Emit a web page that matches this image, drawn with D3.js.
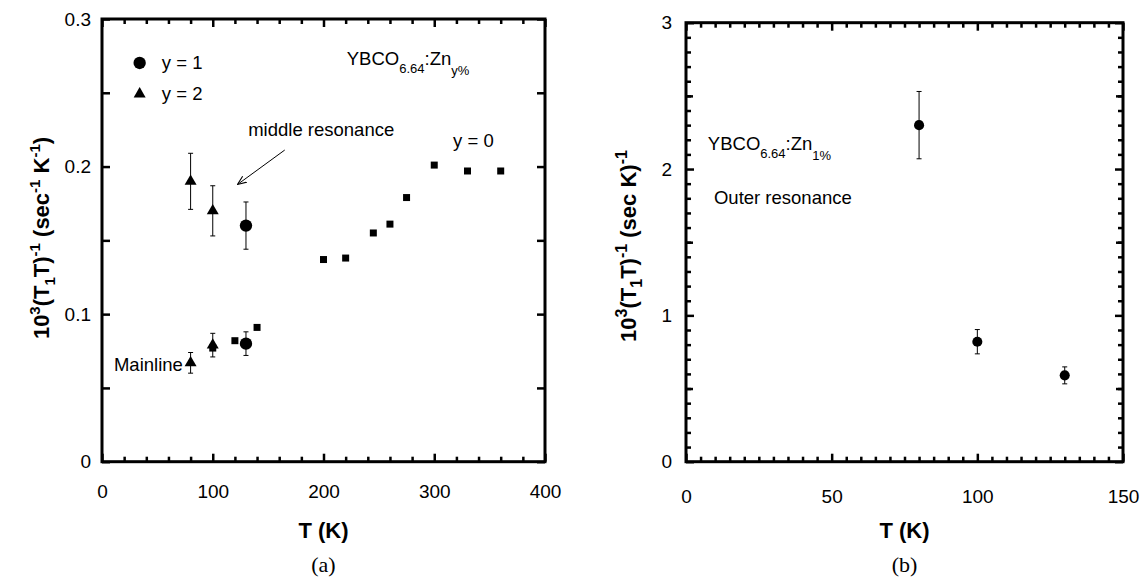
<!DOCTYPE html>
<meta charset="utf-8">
<style>
body { margin: 0; background: #fff; }
svg text { font-family: "Liberation Sans", Arial, sans-serif; fill: #000; }
.axis text { font-size: 19px; }
.axis path { display: none; }
.err line { stroke: #000; stroke-width: 1px; }
.note { font-size: 18.5px; }
.title { font-size: 22px; font-weight: bold; }
.cap { font-family: "Liberation Serif", "DejaVu Serif", serif !important; font-size: 22px; }
</style>
<svg width="1143" height="582"></svg>
<script src="https://d3js.org/d3.v7.min.js"></script>
<script>
// panel (a): 1/(T1 T) of YBCO6.64:Zn
// y = 0, squares
var tY0 = [100, 120, 140, 200, 220, 245, 260, 275, 300, 330, 360];
var rY0 = [0.077, 0.082, 0.091, 0.137, 0.138, 0.155, 0.161, 0.179, 0.201, 0.197, 0.197];
// y = 1, circles (middle resonance, mainline)
var tY1 = [130, 130];
var rY1 = [0.160, 0.080];
var eY1 = [0.016, 0.008];
// y = 2, triangles
var tY2 = [80, 100, 80, 100];
var rY2 = [0.190, 0.170, 0.067, 0.079];
var eY2 = [0.019, 0.017, 0.007, 0.008];

// panel (b): outer resonance, Zn 1%
var tOut = [80, 100, 130];
var rOut = [2.30, 0.82, 0.59];
var eOut = [0.23, 0.083, 0.058];

var xTicksA = [0, 100, 200, 300, 400], yTicksA = [0, 0.1, 0.2, 0.3];
var xTicksB = [0, 50, 100, 150], yTicksB = [0, 1, 2, 3];

var svg = d3.select("svg");

function panel(o) {
  var x = d3.scaleLinear().domain(o.xd).range([o.l, o.r]);
  var y = d3.scaleLinear().domain(o.yd).range([o.b, o.t]);
  var g = svg.append("g");

  function ax(fn, pos, vals, size, fmt, pad) {
    var a = fn(fn === d3.axisBottom || fn === d3.axisTop ? x : y)
      .tickValues(vals).tickSize(-size).tickPadding(pad || 0)
      .tickFormat(fmt || function() { return ""; });
    var s = g.append("g").attr("class", "axis").attr("transform", pos).call(a);
    s.selectAll(".tick line").attr("stroke", "#000").attr("stroke-width", 2.5);
  }
  var minX = d3.range(o.xd[0], o.xd[1] + 1e-9, o.xMinor).filter(function(v) { return o.xMajor.indexOf(v) < 0; });
  var minY = o.yMinor.filter(function(v) { return o.yMajor.indexOf(v) < 0; });
  var bottom = "translate(0," + o.b + ")", top = "translate(0," + o.t + ")";
  var left = "translate(" + o.l + ",0)", right = "translate(" + o.r + ",0)";

  g.append("rect").attr("fill", "none").attr("stroke", "#000").attr("stroke-width", 3)
    .attr("x", o.l).attr("y", o.t).attr("width", o.r - o.l).attr("height", o.b - o.t);

  ax(d3.axisBottom, bottom, o.xMajor, 8, o.xFmt, o.xPad);
  ax(d3.axisBottom, bottom, minX, 5);
  ax(d3.axisTop, top, o.xMajor, 8);
  ax(d3.axisTop, top, minX, 5);
  ax(d3.axisLeft, left, o.yMajor, 8, o.yFmt, o.yPad);
  ax(d3.axisLeft, left, minY, o.yMinorLen);
  ax(d3.axisRight, right, o.yMajor, 8);
  ax(d3.axisRight, right, minY, o.yMinorLen);
  if (o.yMid) {
    ax(d3.axisLeft, left, o.yMid, 7);
    ax(d3.axisRight, right, o.yMid, 7);
  }

  g.append("text").attr("class", "title").attr("text-anchor", "middle")
    .attr("x", (o.l + o.r) / 2).attr("y", 538).text("T (K)");
  g.append("text").attr("class", "cap").attr("text-anchor", "middle")
    .attr("x", (o.l + o.r) / 2).attr("y", 572).text(o.cap);

  var yl = g.append("text").attr("class", "title").attr("font-size", o.ylSize)
    .attr("text-anchor", "middle")
    .attr("transform", "translate(" + o.ylx + "," + o.yly + ") rotate(-90)");
  o.yLabel.forEach(function(p) {
    var s = yl.append("tspan").text(p[0]);
    if (p[1] === "sup") s.attr("font-size", o.supSize).attr("dy", "-9");
    if (p[1] === "sub") s.attr("font-size", o.supSize).attr("dy", "6");
    if (p[1] === "back") s.attr("dy", "9");
    if (p[1] === "up") s.attr("dy", "-6");
  });
  return { g: g, x: x, y: y };
}

function errs(p, ts, rs, es) {
  var e = p.g.append("g").attr("class", "err");
  ts.forEach(function(t, i) {
    var cx = p.x(t), y1 = p.y(rs[i] - es[i]), y2 = p.y(rs[i] + es[i]);
    e.append("line").attr("x1", cx).attr("x2", cx).attr("y1", y1).attr("y2", y2);
    e.append("line").attr("x1", cx - 2.5).attr("x2", cx + 2.5).attr("y1", y1).attr("y2", y1);
    e.append("line").attr("x1", cx - 2.5).attr("x2", cx + 2.5).attr("y1", y2).attr("y2", y2);
  });
}

function marks(p, ts, rs, type, size) {
  p.g.append("g").selectAll("path").data(ts).enter().append("path")
    .attr("d", d3.symbol().type(type).size(size))
    .attr("transform", function(t, i) { return "translate(" + p.x(t) + "," + p.y(rs[i]) + ")"; })
    .attr("fill", "#000");
}

function note(p, t, r, parts, anchor) {
  var tx = p.g.append("text").attr("class", "note").attr("x", p.x(t)).attr("y", p.y(r))
    .attr("text-anchor", anchor || "start");
  parts.forEach(function(q) {
    var s = tx.append("tspan").text(q[0]);
    if (q[1]) s.attr("font-size", "13px").attr("dy", q[1]);
    if (q[2]) s.attr("dy", q[2]);
  });
}

// ----- panel (a)
var a = panel({
  xd: [0, 400], yd: [0, 0.3], l: 102, r: 545, t: 19, b: 461.7,
  xMajor: xTicksA, xMinor: 20, yMajor: yTicksA, yMinor: [0.05, 0.15, 0.25], yMinorLen: 8,
  xFmt: d3.format("d"), yFmt: function(d) { return d === 0 ? "0" : d3.format(".1f")(d); },
  xPad: 23, yPad: 11, cap: "(a)", ylx: 49, yly: 238, ylSize: "21.5px", supSize: "15px",
  yLabel: [["10"], ["3", "sup"], ["(T", "back"], ["1", "sub"], ["T)", "up"], ["-1", "sup"],
           [" (sec", "back"], ["-1", "sup"], [" K", "back"], ["-1", "sup"], [")", "back"]]
});

errs(a, tY1, rY1, eY1);
errs(a, tY2, rY2, eY2);
marks(a, tY0, rY0, d3.symbolSquare, 49);
marks(a, tY2, rY2, d3.symbolTriangle, 62);
marks(a, tY1, rY1, d3.symbolCircle, 120);

// legend
marks(a, [34], [0.2702], d3.symbolCircle, 120);
marks(a, [34], [0.2492], d3.symbolTriangle, 62);
note(a, 54, 0.2660, [["y = 1"]]);
note(a, 54, 0.2450, [["y = 2"]]);

note(a, 221, 0.2688, [["YBCO"], ["6.64", "8"], [":Zn", null, "-8"], ["y%", "10"]]);
note(a, 317, 0.2132, [["y = 0"]]);
note(a, 132, 0.2207, [["middle resonance"]]);
note(a, 73, 0.0615, [["Mainline"]], "end");

svg.append("defs").append("marker").attr("id", "ah")
  .attr("viewBox", "0 0 10 10").attr("refX", 9).attr("refY", 5)
  .attr("markerWidth", 9).attr("markerHeight", 9).attr("orient", "auto")
  .attr("markerUnits", "userSpaceOnUse")
  .append("path").attr("d", "M0,1 L10,5 L0,9").attr("fill", "none").attr("stroke", "#000").attr("stroke-width", 1.2);

var arrow = [[165, 0.2112], [123, 0.1882]];
a.g.append("line").attr("stroke", "#000").attr("stroke-width", 1)
  .attr("x1", a.x(arrow[0][0])).attr("y1", a.y(arrow[0][1]))
  .attr("x2", a.x(arrow[1][0])).attr("y2", a.y(arrow[1][1]))
  .attr("marker-end", "url(#ah)");

// ----- panel (b)
var b = panel({
  xd: [0, 150], yd: [0, 3], l: 686, r: 1123, t: 22.7, b: 461.7,
  xMajor: xTicksB, xMinor: 5, yMajor: yTicksB, yMinor: d3.range(1, 30).map(function(i) { return i / 10; }),
  yMinorLen: 5, yMid: [0.5, 1.5, 2.5],
  xFmt: d3.format("d"), yFmt: d3.format("d"),
  xPad: 28, yPad: 14, cap: "(b)", ylx: 636, yly: 246, ylSize: "23px", supSize: "16px",
  yLabel: [["10"], ["3", "sup"], ["(T", "back"], ["1", "sub"], ["T)", "up"], ["-1", "sup"],
           [" (sec K)", "back"], ["-1", "sup"]]
});
errs(b, tOut, rOut, eOut);
marks(b, tOut, rOut, d3.symbolCircle, 80);
note(b, 7.5, 2.13, [["YBCO"], ["6.64", "8"], [":Zn", null, "-8"], ["1%", "10"]]);
note(b, 9.6, 1.761, [["Outer resonance"]]);
</script>
